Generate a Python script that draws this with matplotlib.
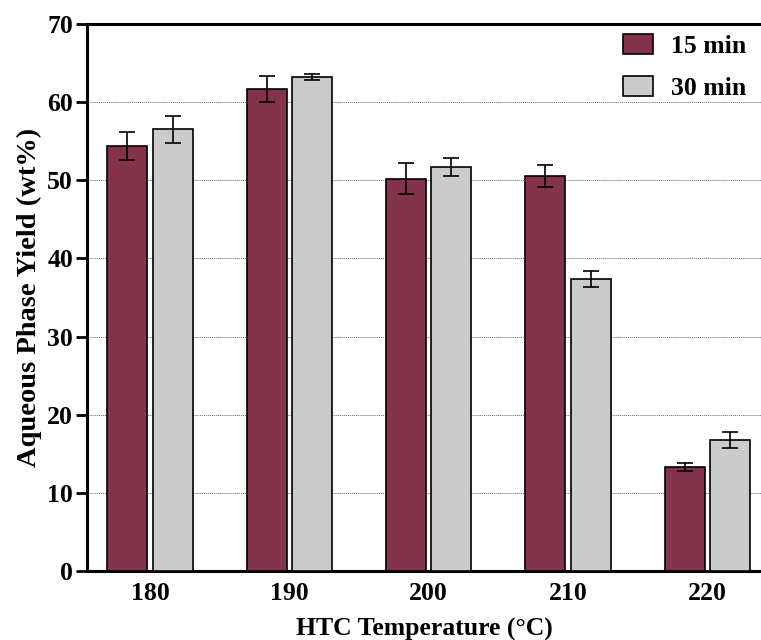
import numpy as np
import matplotlib.pyplot as plt
from matplotlib.patches import Patch

# HTC temperatures and aqueous phase yields (wt%)
temps = ['180', '190', '200', '210', '220']
yield_15 = [54.4, 61.7, 50.2, 50.6, 13.3]
err_15 = [1.8, 1.7, 2.0, 1.4, 0.5]
yield_30 = [56.5, 63.2, 51.7, 37.4, 16.8]
err_30 = [1.7, 0.4, 1.2, 1.0, 1.0]

maroon = '#84344A'
grey = '#CBCBCB'

plt.rcParams['font.family'] = 'Liberation Serif'
plt.rcParams['font.weight'] = 'bold'

fig = plt.figure(figsize=(7.61, 6.4), dpi=100)
ax = fig.add_axes([0.1143, 0.1078, 0.8857, 0.8547])

x = np.arange(len(temps))
w = 0.287
off = 0.163
err_kw = dict(ecolor='black', elinewidth=1.2, capsize=5.5, capthick=1.2)
ax.bar(x - off, yield_15, w, yerr=err_15, color=maroon, edgecolor='black',
       linewidth=1.2, error_kw=err_kw, zorder=3)
ax.bar(x + off, yield_30, w, yerr=err_30, color=grey, edgecolor='black',
       linewidth=1.2, error_kw=err_kw, zorder=3)

ax.set_xlim(-0.452, len(temps) - 1 + 0.386)
ax.set_ylim(0, 70)
ax.set_yticks(range(0, 71, 10))
ax.set_xticks(x)
ax.set_xticklabels(temps)
ax.tick_params(axis='y', length=8, width=2, labelsize=18.5, pad=2)
ax.tick_params(axis='x', length=0, labelsize=18.5, pad=8)

ax.yaxis.grid(True, linestyle=(0, (1, 1)), color='#666666', linewidth=0.7, zorder=0)
ax.set_axisbelow(True)

for side in ['left', 'bottom', 'top']:
    ax.spines[side].set_linewidth(2.2)
ax.spines['right'].set_visible(False)

ax.set_xlabel('HTC Temperature (°C)', fontsize=18.5, fontweight='bold', labelpad=9)
ax.set_ylabel('Aqueous Phase Yield (wt%)', fontsize=20.5, fontweight='bold', labelpad=4)

handles = [Patch(facecolor=maroon, edgecolor='black', linewidth=1.2, label='15 min'),
           Patch(facecolor=grey, edgecolor='black', linewidth=1.2, label='30 min')]
ax.legend(handles=handles, loc='upper right', frameon=False, fontsize=18.5,
          handlelength=1.2, handleheight=0.8, handletextpad=0.7, labelspacing=0.7,
          borderaxespad=0.0, bbox_to_anchor=(0.994, 1.0))

fig.savefig('out.png', dpi=100)
